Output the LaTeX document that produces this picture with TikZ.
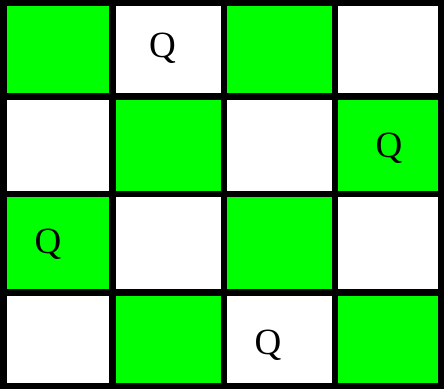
\documentclass[tikz,border=0pt]{standalone}
\usepackage{fontspec}
\setmainfont{Liberation Serif}
\definecolor{boardgreen}{HTML}{00FF00}
\tikzset{
  gridline/.style={line width=6.5pt, black},
  greencell/.style={fill=boardgreen},
  queen/.style={inner sep=0pt, anchor=base, font=\fontsize{37}{40}\selectfont}
}
\begin{document}
\begin{tikzpicture}[x=1pt,y=-1pt]
\useasboundingbox (0,0) rectangle (444,389);
\fill[white] (0,0) rectangle (444,389);
% green cells
\fill[greencell] (3.5,3) rectangle (112.5,96.5);
\fill[greencell] (224,3) rectangle (335,96.5);
\fill[greencell] (112.5,96.5) rectangle (224,194);
\fill[greencell] (335,96.5) rectangle (441,194);
\fill[greencell] (3.5,194) rectangle (112.5,292.5);
\fill[greencell] (224,194) rectangle (335,292.5);
\fill[greencell] (112.5,292.5) rectangle (224,386);
\fill[greencell] (335,292.5) rectangle (441,386);
% grid lines
\foreach \x in {112.5,224,335} \draw[gridline] (\x,3) -- (\x,386);
\foreach \y in {96.5,194,292.5} \draw[gridline] (3.5,\y) -- (441,\y);
\draw[gridline] (3.5,3) rectangle (441,386);
% queens
\node[queen] (q1) at (162.5,57.5) {Q};
\node[queen] (q2) at (389,157.5) {Q};
\node[queen] (q3) at (48,253.5) {Q};
\node[queen] (q4) at (268,354) {Q};
\end{tikzpicture}
\end{document}
